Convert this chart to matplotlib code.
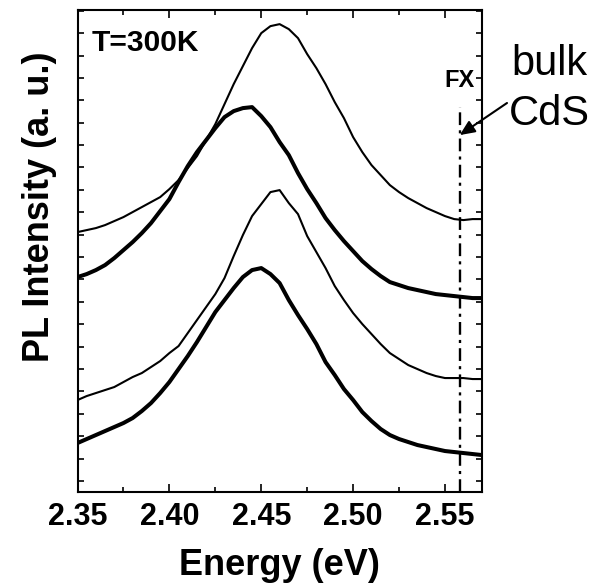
import matplotlib
matplotlib.use("Agg")
import matplotlib.pyplot as plt
from matplotlib.ticker import MultipleLocator

plt.rcParams['font.family'] = ['Liberation Sans', 'DejaVu Sans']

# Energy grid (eV) at which the curves were read (0.005 eV steps)
energy = [2.350, 2.355, 2.360, 2.365, 2.370, 2.375, 2.380, 2.385, 2.390, 2.395,
          2.400, 2.405, 2.410, 2.415, 2.420, 2.425, 2.430, 2.435, 2.440, 2.445,
          2.450, 2.455, 2.460, 2.465, 2.470, 2.475, 2.480, 2.485, 2.490, 2.495,
          2.500, 2.505, 2.510, 2.515, 2.520, 2.525, 2.530, 2.535, 2.540, 2.545,
          2.550, 2.555, 2.560, 2.565, 2.570]

# PL spectra, arbitrary units (already vertically offset)
curve_a = [249, 251, 253, 256, 260, 264, 269, 274, 279, 284,
           292, 301, 313, 325, 341, 357, 377, 397, 415, 433,
           448, 455, 457, 452, 443, 427, 413, 397, 379, 363,
           344, 329, 316, 306, 296, 289, 283, 278, 273, 269,
           265, 262, 261, 262, 262]
curve_b = [204, 207, 211, 216, 223, 231, 239, 248, 258, 270,
           282, 299, 315, 329, 341, 353, 364, 370, 373, 374,
           365, 354, 339, 326, 308, 292, 278, 263, 251, 240,
           230, 220, 212, 205, 199, 196, 193, 191, 189, 187,
           186, 185, 184, 183, 183]
curve_c = [81, 85, 88, 91, 94, 99, 104, 108, 114, 120,
           128, 135, 148, 161, 174, 187, 203, 225, 246, 265,
           277, 289, 291, 278, 267, 245, 229, 213, 195, 181,
           168, 157, 147, 137, 128, 122, 116, 112, 108, 105,
           103, 103, 103, 102, 102]
curve_d = [38, 42, 46, 50, 54, 58, 63, 70, 78, 88,
           99, 112, 125, 139, 154, 169, 181, 193, 204, 211,
           213, 207, 198, 181, 166, 152, 137, 119, 106, 92,
           81, 69, 60, 52, 46, 42, 39, 36, 34, 32,
           30, 29, 28, 27, 26]

fx_energy = 2.558
fx_top = 374

x_ticks = [2.35, 2.40, 2.45, 2.50, 2.55]
x_tick_labels = ["2.35", "2.40", "2.45", "2.50", "2.55"]

fig = plt.figure(figsize=(5.94, 5.84), dpi=100)
ax = fig.add_axes([0.1305, 0.1575, 0.6805, 0.826])

ax.plot(energy, curve_a, color='black', lw=1.5)
ax.plot(energy, curve_b, color='black', lw=2.9)
ax.plot(energy, curve_c, color='black', lw=1.5)
ax.plot(energy, curve_d, color='black', lw=2.9)

ax.plot([fx_energy, fx_energy], [-11, fx_top], color='black', lw=1.7,
        dashes=(5.4, 2.2, 1.3, 2.2))

ax.set_xlim(2.35, 2.57)
ax.set_ylim(-11, 471.5)
ax.set_xticks(x_ticks)
ax.set_xticklabels(x_tick_labels)
ax.xaxis.set_minor_locator(MultipleLocator(0.025))
ax.yaxis.set_major_locator(MultipleLocator(22.4))
ax.tick_params(axis='y', which='major', labelleft=False, direction='in', length=4,
               width=1.2, left=True, right=True)
ax.tick_params(axis='x', which='major', direction='in', length=6, width=1.2,
               top=True, bottom=True, pad=7, labelsize=22)
ax.tick_params(axis='x', which='minor', direction='in', length=3.5, width=1.2,
               top=True, bottom=True)
for lab in ax.get_xticklabels():
    lab.set_fontweight('bold')
for s in ax.spines.values():
    s.set_linewidth(1.5)

ax.set_xlabel("Energy (eV)", fontsize=26, fontweight='bold', labelpad=12)
fig.text(40 / 594, 1 - 207 / 584, "PL Intensity (a. u.)", rotation=90,
         ha='center', va='center', fontsize=26, fontweight='bold')

ax.text(0.036, 0.915, "T=300K", transform=ax.transAxes, fontsize=21.5,
        fontweight='bold', ha='left', va='baseline')
ax.text(fx_energy, 394, "FX", fontsize=17, fontweight='bold', ha='center',
        va='baseline')

fig.text(549 / 594, 1 - 75 / 584, "bulk", fontsize=30, ha='center', va='baseline')
fig.text(549 / 594, 1 - 125 / 584, "CdS", fontsize=30, ha='center', va='baseline')
ax.annotate("", xy=(fx_energy, 346), xycoords='data',
            xytext=(507 / 594, 1 - 103 / 584), textcoords='figure fraction',
            arrowprops=dict(arrowstyle='-|>,head_length=0.9,head_width=0.4',
                            color='black', lw=1.5, shrinkA=0, shrinkB=0),
            annotation_clip=False)

fig.savefig("out.png", dpi=100)
